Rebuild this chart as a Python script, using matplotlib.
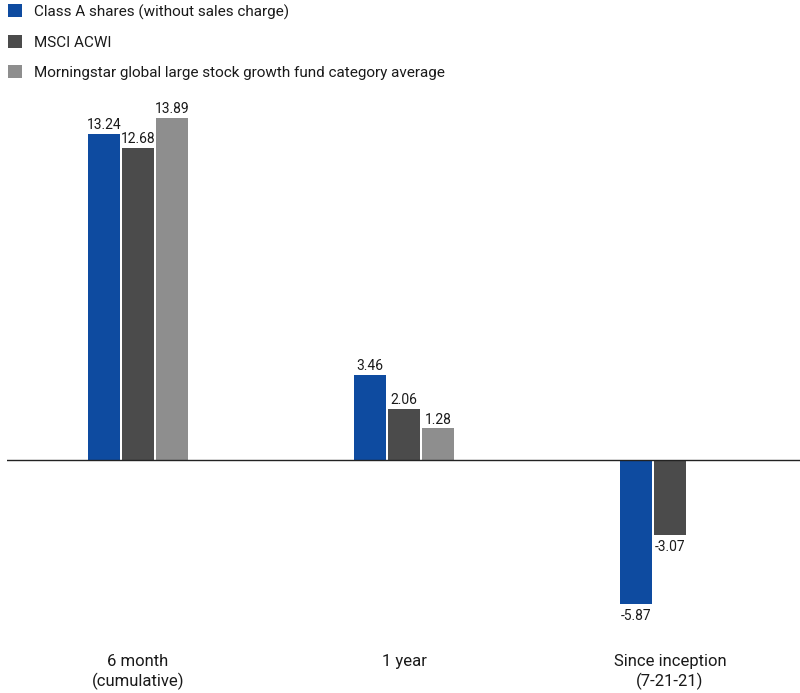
import numpy as np
import matplotlib.pyplot as plt

plt.rcParams['font.family'] = ['Roboto', 'DejaVu Sans']

categories = ["6 month\n(cumulative)", "1 year", "Since inception\n(7-21-21)"]
series_names = [
    "Class A shares (without sales charge)",
    "MSCI ACWI",
    "Morningstar global large stock growth fund category average",
]
class_a = [13.24, 3.46, -5.87]
msci_acwi = [12.68, 2.06, -3.07]
morningstar = [13.89, 1.28, np.nan]
colors = ["#0e4ba0", "#4b4b4b", "#8e8e8e"]

fig = plt.figure(figsize=(8, 6.93), dpi=100)
ax = fig.add_axes([7 / 800, 1 - 625 / 693, 793 / 800, 515 / 693])

x = np.arange(len(categories))
width = 0.12
step = 0.128
for k, (vals, name, col) in enumerate(zip([class_a, msci_acwi, morningstar], series_names, colors)):
    pos = x + (k - 1) * step
    ax.bar(pos, vals, width, color=col, label=name)
    for p, v in zip(pos, vals):
        if np.isnan(v):
            continue
        off = 0.08 if v >= 0 else -0.2
        ax.text(p, v + off, f"{v:.2f}", ha="center", va="bottom" if v >= 0 else "top",
                fontsize=10, color="#1a1a1a")

ax.axhline(0, color="#222222", lw=1)
ax.set_xlim(-0.4925, 2.489)
ax.set_ylim(-6.71, 14.23)
ax.set_xticks(x)
ax.set_xticklabels(categories, fontsize=12, color="#1a1a1a", linespacing=1.25)
ax.tick_params(axis="x", length=0, pad=21)
ax.set_yticks([])
for s in ax.spines.values():
    s.set_visible(False)

fig.legend(loc="upper left", bbox_to_anchor=(0.0, 1.005), frameon=False, fontsize=11,
           handlelength=0.95, handleheight=0.95, handletextpad=0.75, labelspacing=1.0,
           borderaxespad=0.3, borderpad=0.2, labelcolor="#1a1a1a")

fig.savefig("out.png", dpi=100)
